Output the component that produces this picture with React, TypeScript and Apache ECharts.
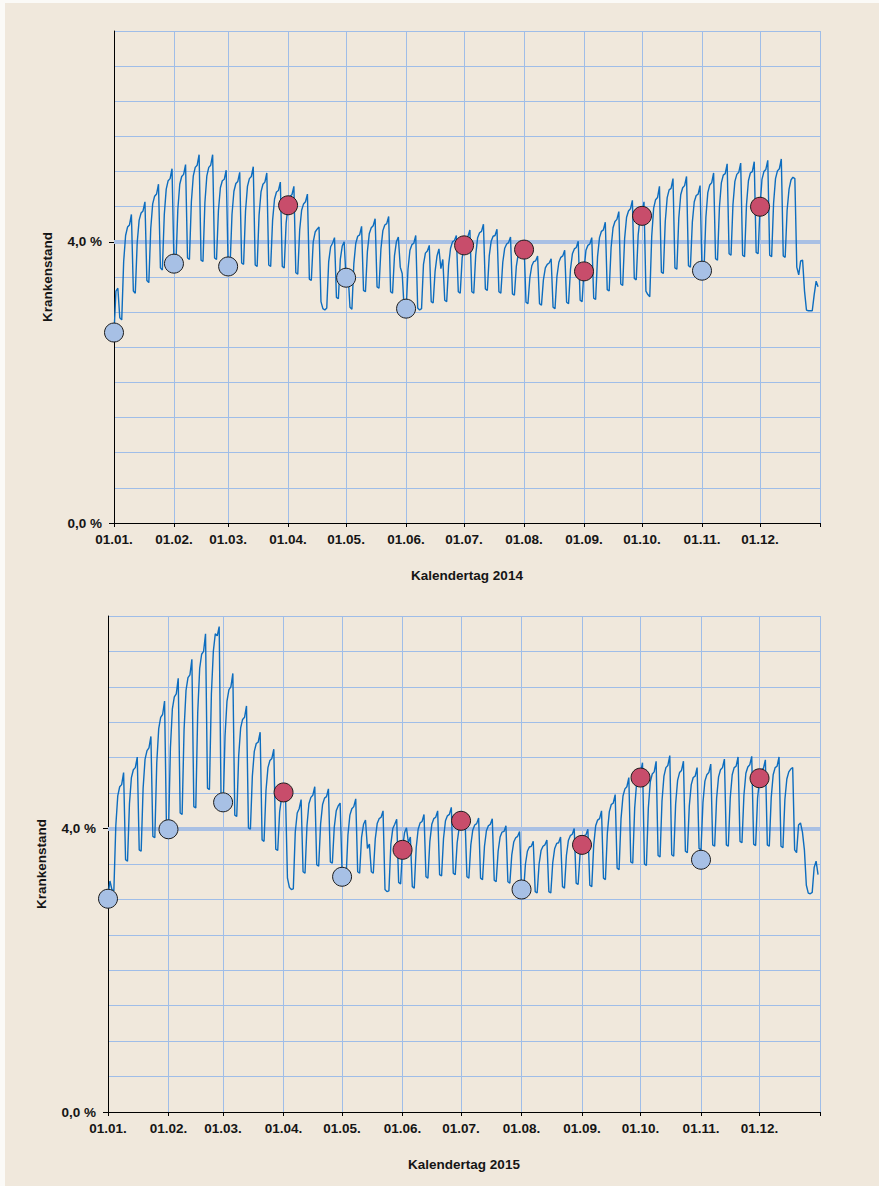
import React, { useEffect, useRef } from "react";
import * as echarts from "echarts";

// ---- axis scaffolding -------------------------------------------------------
const monthStartDays = [0, 31, 59, 90, 120, 151, 181, 212, 243, 273, 304, 334, 365];
const monthLabels = ["01.01.", "01.02.", "01.03.", "01.04.", "01.05.", "01.06.", "01.07.", "01.08.", "01.09.", "01.10.", "01.11.", "01.12."];
const yTickValues = [0, 4];
const yTickLabels = ["0,0 %", "4,0 %"];
const referenceLevel = 4;
const yName = "Krankenstand";
const xNames = ["Kalendertag 2014", "Kalendertag 2015"];

// ---- daily values 2014 (Jan 1 = Wednesday), one row per week --------------
const daily2014 = [
  2.70, 3.30, 3.34, 2.92, 2.89, // Jan 1-5
  3.72, 4.09, 4.21, 4.24, 4.39, 3.30, 3.27, // Jan 6-12
  3.99, 4.31, 4.41, 4.44, 4.57, 3.45, 3.42, // Jan 13-19
  4.19, 4.54, 4.65, 4.68, 4.82, 3.63, 3.60, // Jan 20-26
  4.39, 4.75, 4.87, 4.90, 5.04, 3.70, 3.68, // Jan 27-Feb 2
  4.46, 4.82, 4.93, 4.96, 5.10, 3.77, 3.75, // Feb 3-9
  4.57, 4.94, 5.06, 5.09, 5.24, 3.74, 3.72, // Feb 10-16
  4.56, 4.94, 5.06, 5.09, 5.24, 3.77, 3.75, // Feb 17-23
  4.45, 4.77, 4.87, 4.89, 5.02, 3.67, 3.65, // Feb 24-Mar 2
  4.39, 4.72, 4.83, 4.86, 4.99, 3.70, 3.68, // Mar 3-9
  4.44, 4.79, 4.90, 4.93, 5.07, 3.67, 3.65, // Mar 10-16
  4.38, 4.71, 4.82, 4.85, 4.98, 3.67, 3.65, // Mar 17-23
  4.31, 4.61, 4.71, 4.73, 4.85, 3.65, 3.63, // Mar 24-30
  4.27, 4.51, 4.65, 4.67, 4.79, 3.56, 3.54, // Mar 31-Apr 6
  4.17, 4.45, 4.54, 4.57, 4.68, 3.47, 3.45, // Apr 7-13
  4.00, 4.14, 4.18, 4.21, 3.15, 3.05, 3.03, // Apr 14-20
  3.06, 3.72, 3.93, 3.98, 4.06, 3.21, 3.19, // Apr 21-27
  3.75, 3.94, 4.00, 3.45, 3.55, 3.07, 3.04, // Apr 28-May 4
  3.69, 3.98, 4.08, 4.10, 4.22, 3.31, 3.29, // May 5-11
  3.86, 4.12, 4.20, 4.23, 4.33, 3.36, 3.34, // May 12-18
  3.90, 4.16, 4.24, 4.26, 4.36, 3.29, 3.27, // May 19-25
  3.80, 4.00, 4.07, 3.64, 3.55, 3.05, 3.02, // May 26-Jun 1
  3.61, 3.88, 3.96, 3.98, 4.09, 3.06, 3.03, // Jun 2-8
  3.05, 3.68, 3.84, 3.87, 3.95, 3.15, 3.13, // Jun 9-15
  3.58, 3.80, 3.90, 3.62, 3.75, 3.17, 3.15, // Jun 16-22
  3.67, 3.91, 4.00, 4.02, 4.09, 3.29, 3.27, // Jun 23-29
  3.77, 3.95, 4.06, 4.08, 4.17, 3.29, 3.27, // Jun 30-Jul 6
  3.81, 4.06, 4.13, 4.15, 4.25, 3.33, 3.31, // Jul 7-13
  3.80, 4.01, 4.08, 4.09, 4.18, 3.29, 3.27, // Jul 14-20
  3.71, 3.91, 3.97, 3.99, 4.07, 3.26, 3.24, // Jul 21-27
  3.65, 3.83, 3.89, 3.91, 3.95, 3.14, 3.12, // Jul 28-Aug 3
  3.49, 3.66, 3.72, 3.73, 3.80, 3.12, 3.10, // Aug 4-10
  3.46, 3.63, 3.68, 3.70, 3.76, 3.07, 3.05, // Aug 11-17
  3.51, 3.71, 3.78, 3.80, 3.88, 3.14, 3.12, // Aug 18-24
  3.61, 3.83, 3.90, 3.92, 4.01, 3.17, 3.15, // Aug 25-31
  3.60, 3.88, 3.95, 3.97, 4.06, 3.20, 3.18, // Sep 1-7
  3.79, 4.06, 4.15, 4.17, 4.28, 3.32, 3.30, // Sep 8-14
  3.92, 4.20, 4.29, 4.32, 4.43, 3.40, 3.38, // Sep 15-21
  4.05, 4.35, 4.44, 4.47, 4.59, 3.48, 3.46, // Sep 22-28
  4.10, 4.35, 4.40, 4.57, 3.30, 3.25, 3.22, // Sep 29-Oct 5
  4.08, 4.48, 4.60, 4.63, 4.79, 3.57, 3.55, // Oct 6-12
  4.29, 4.63, 4.74, 4.76, 4.90, 3.63, 3.61, // Oct 13-19
  4.34, 4.67, 4.77, 4.80, 4.93, 3.66, 3.64, // Oct 20-26
  4.28, 4.57, 4.66, 4.68, 4.80, 3.59, 3.57, // Oct 27-Nov 2
  4.35, 4.70, 4.81, 4.84, 4.98, 3.76, 3.74, // Nov 3-9
  4.49, 4.84, 4.95, 4.97, 5.11, 3.83, 3.81, // Nov 10-16
  4.53, 4.86, 4.96, 4.99, 5.12, 3.81, 3.79, // Nov 17-23
  4.53, 4.87, 4.98, 5.00, 5.14, 3.85, 3.83, // Nov 24-30
  4.50, 4.89, 5.00, 5.03, 5.16, 3.81, 3.79, // Dec 1-7
  4.55, 4.90, 5.01, 5.04, 5.18, 3.80, 3.78, // Dec 8-14
  4.45, 4.75, 4.88, 4.92, 4.90, 3.64, 3.53, // Dec 15-21
  3.73, 3.74, 3.30, 3.03, 3.02, 3.02, 3.02, // Dec 22-28
  3.25, 3.44, 3.36, // Dec 29-31
];

// ---- daily values 2015 (Jan 1 = Thursday), one row per week ---------------
const daily2015 = [
  3.05, 3.26, 3.14, 3.12, // Jan 1-4
  4.04, 4.46, 4.59, 4.62, 4.79, 3.56, 3.54, // Jan 5-11
  4.35, 4.72, 4.83, 4.86, 5.01, 3.70, 3.68, // Jan 12-18
  4.57, 4.98, 5.10, 5.14, 5.30, 3.89, 3.87, // Jan 19-25
  4.93, 5.41, 5.57, 5.61, 5.80, 3.96, 3.95, // Jan 26-Feb 1
  5.14, 5.69, 5.86, 5.90, 6.12, 4.22, 4.20, // Feb 2-8
  5.40, 5.95, 6.13, 6.17, 6.39, 4.31, 4.29, // Feb 9-15
  5.64, 6.26, 6.46, 6.50, 6.75, 4.57, 4.55, // Feb 16-22
  5.90, 6.50, 6.75, 6.72, 6.85, 4.30, 4.25, // Feb 23-Mar 1
  5.31, 5.80, 5.96, 6.00, 6.19, 4.19, 4.17, // Mar 2-8
  5.03, 5.42, 5.54, 5.57, 5.73, 4.01, 3.99, // Mar 9-15
  4.74, 5.09, 5.20, 5.22, 5.36, 3.84, 3.82, // Mar 16-22
  4.54, 4.86, 4.96, 4.99, 5.12, 3.71, 3.69, // Mar 23-29
  4.24, 4.44, 4.50, 4.47, 3.30, 3.17, 3.14, // Mar 30-Apr 5
  3.15, 3.95, 4.22, 4.28, 4.41, 3.39, 3.37, // Apr 6-12
  4.04, 4.35, 4.44, 4.47, 4.59, 3.49, 3.47, // Apr 13-19
  4.07, 4.34, 4.43, 4.45, 4.56, 3.53, 3.51, // Apr 20-26
  4.02, 4.25, 4.32, 4.36, 3.38, 3.30, 3.28, // Apr 27-May 3
  3.91, 4.19, 4.28, 4.31, 4.42, 3.39, 3.37, // May 4-10
  3.88, 4.06, 4.12, 3.72, 3.78, 3.39, 3.37, // May 11-17
  3.85, 4.07, 4.14, 4.16, 4.25, 3.14, 3.11, // May 18-24
  3.12, 3.78, 4.00, 4.06, 4.13, 3.24, 3.22, // May 25-31
  3.72, 3.94, 4.01, 3.80, 3.88, 3.18, 3.16, // Jun 1-7
  3.73, 3.99, 4.08, 4.10, 4.20, 3.32, 3.30, // Jun 8-14
  3.82, 4.06, 4.14, 4.16, 4.25, 3.35, 3.33, // Jun 15-21
  3.86, 4.11, 4.18, 4.20, 4.30, 3.37, 3.35, // Jun 22-28
  3.80, 4.01, 4.08, 4.10, 4.17, 3.32, 3.30, // Jun 29-Jul 5
  3.77, 3.98, 4.05, 4.07, 4.15, 3.30, 3.28, // Jul 6-12
  3.75, 3.97, 4.04, 4.06, 4.14, 3.27, 3.25, // Jul 13-19
  3.68, 3.88, 3.95, 3.96, 4.04, 3.25, 3.23, // Jul 20-26
  3.63, 3.81, 3.87, 3.89, 3.96, 3.12, 3.10, // Jul 27-Aug 2
  3.50, 3.68, 3.74, 3.75, 3.82, 3.11, 3.09, // Aug 3-9
  3.50, 3.69, 3.75, 3.77, 3.84, 3.11, 3.09, // Aug 10-16
  3.52, 3.72, 3.79, 3.80, 3.88, 3.18, 3.16, // Aug 17-23
  3.62, 3.83, 3.90, 3.92, 4.00, 3.23, 3.21, // Aug 24-30
  3.64, 3.79, 3.90, 3.91, 3.99, 3.20, 3.18, // Aug 31-Sep 6
  3.77, 4.04, 4.12, 4.14, 4.25, 3.30, 3.28, // Sep 7-13
  3.94, 4.24, 4.34, 4.36, 4.48, 3.44, 3.42, // Sep 14-20
  4.14, 4.46, 4.56, 4.59, 4.72, 3.53, 3.51, // Sep 21-27
  4.29, 4.65, 4.71, 4.79, 4.93, 3.50, 3.48, // Sep 28-Oct 4
  4.29, 4.66, 4.77, 4.80, 4.95, 3.62, 3.60, // Oct 5-11
  4.39, 4.74, 4.86, 4.89, 5.03, 3.63, 3.61, // Oct 12-18
  4.35, 4.68, 4.79, 4.82, 4.95, 3.68, 3.66, // Oct 19-25
  4.32, 4.62, 4.72, 4.74, 4.86, 3.72, 3.70, // Oct 26-Nov 1
  4.37, 4.67, 4.76, 4.79, 4.91, 3.77, 3.75, // Nov 2-8
  4.43, 4.73, 4.83, 4.86, 4.98, 3.77, 3.75, // Nov 9-15
  4.44, 4.76, 4.86, 4.88, 5.01, 3.82, 3.80, // Nov 16-22
  4.47, 4.78, 4.87, 4.90, 5.02, 3.78, 3.76, // Nov 23-29
  4.43, 4.69, 4.83, 4.85, 4.97, 3.77, 3.75, // Nov 30-Dec 6
  4.44, 4.76, 4.86, 4.88, 5.01, 3.75, 3.73, // Dec 7-13
  4.41, 4.70, 4.80, 4.84, 4.86, 3.70, 3.66, // Dec 14-20
  4.05, 4.08, 3.95, 3.70, 3.20, 3.09, 3.08, // Dec 21-27
  3.10, 3.45, 3.54, 3.35, // Dec 28-31
];

// ---- values on the 1st of each month (dots) ---------------------------------
const monthDots2014 = [2.71, 3.69, 3.65, 4.52, 3.49, 3.05, 3.95, 3.89, 3.58, 4.37, 3.59, 4.50];
const monthDotKind2014 = ["b", "b", "b", "r", "b", "b", "r", "r", "r", "r", "b", "r"];
const monthDots2015 = [3.01, 3.99, 4.37, 4.51, 3.32, 3.70, 4.11, 3.14, 3.77, 4.72, 3.56, 4.71];
const monthDotKind2015 = ["b", "b", "b", "r", "b", "r", "r", "b", "r", "r", "b", "r"];

// ---- styles -------------------------------------------------------------------
const BG = "#f0e8dc";
const GRID_COLOR = "#9fbde8";
const REF_COLOR = "#a9c0e4";
const LINE_COLOR = "#0d6dbf";
const DOT_BLUE = "#a7c0e5";
const DOT_RED = "#c84d6b";
const TEXT_COLOR = "#151515";
const FONT = "'Liberation Sans', Arial, Helvetica, sans-serif";

const grids = [
  { left: 114, top: 31, width: 706, height: 492 },
  { left: 108, top: 616, width: 712, height: 496 },
];

const categories = Array.from({ length: 366 }, (_, i) => String(i));

const isMonthStart = (i: number) => monthStartDays.indexOf(i) >= 0;

function buildOption() {
  const textStyle = { color: TEXT_COLOR, fontFamily: FONT, fontWeight: "bold" as const, fontSize: 13.5 };
  const years = [
    { values: daily2014, dots: monthDots2014, kinds: monthDotKind2014 },
    { values: daily2015, dots: monthDots2015, kinds: monthDotKind2015 },
  ];
  const xAxis: any[] = [];
  const yAxis: any[] = [];
  const series: any[] = [];
  years.forEach((yr, g) => {
    xAxis.push({
      gridIndex: g,
      type: "category",
      data: categories,
      boundaryGap: false,
      axisLine: { show: true, lineStyle: { color: "#000", width: 1 } },
      axisTick: {
        show: true,
        interval: (i: number) => isMonthStart(i),
        length: 4,
        lineStyle: { color: "#000", width: 1 },
      },
      axisLabel: {
        show: true,
        interval: (i: number) => isMonthStart(i) && i < 365,
        formatter: (v: string) => {
          const k = monthStartDays.indexOf(Number(v));
          return k >= 0 && k < monthLabels.length ? monthLabels[k] : "";
        },
        margin: 9,
        ...textStyle,
      },
      splitLine: {
        show: true,
        interval: (i: number) => isMonthStart(i) && i > 0,
        lineStyle: { color: GRID_COLOR, width: 1 },
      },
      name: xNames[g],
      nameLocation: "middle",
      nameGap: 45,
      nameTextStyle: textStyle,
    });
  });
  // y axes: first two carry horizontal grid lines only, next two carry line/ticks/labels
  years.forEach((_yr, g) => {
    yAxis.push({
      gridIndex: g,
      type: "value",
      position: "left",
      min: 0,
      max: 7,
      interval: 0.5,
      axisLine: { show: false },
      axisTick: { show: false },
      axisLabel: { show: false },
      splitLine: { show: true, lineStyle: { color: GRID_COLOR, width: 1 } },
    });
  });
  years.forEach((_yr, g) => {
    yAxis.push({
      gridIndex: g,
      type: "value",
      position: "left",
      offset: 0,
      min: 0,
      max: 7,
      interval: 0.5,
      axisLine: { show: true, onZero: false, lineStyle: { color: "#000", width: 1 } },
      axisTick: { show: true, customValues: yTickValues, length: 5, lineStyle: { color: "#000" } },
      axisLabel: {
        customValues: yTickValues,
        formatter: (v: number) => {
          const k = yTickValues.indexOf(v);
          return k >= 0 ? yTickLabels[k] : "";
        },
        margin: 12,
        ...textStyle,
      },
      splitLine: { show: false },
      name: yName,
      nameLocation: "middle",
      nameGap: 60,
      nameTextStyle: textStyle,
    });
  });
  years.forEach((yr, g) => {
    series.push({
      type: "line",
      xAxisIndex: g,
      yAxisIndex: g,
      data: [...yr.values, null],
      showSymbol: false,
      symbol: "none",
      lineStyle: { color: LINE_COLOR, width: 1.4 },
      z: 3,
      silent: true,
      markLine: {
        silent: true,
        symbol: "none",
        z: 1,
        label: { show: false },
        lineStyle: { color: REF_COLOR, width: 4, type: "solid" },
        data: [{ yAxis: referenceLevel }],
      },
    });
    series.push({
      type: "scatter",
      xAxisIndex: g,
      yAxisIndex: g,
      symbol: "circle",
      symbolSize: 19,
      z: 4,
      itemStyle: { borderColor: "#1c1c1c", borderWidth: 1, opacity: 1 },
      data: yr.dots.map((v, i) => ({
        value: [monthStartDays[i], v],
        itemStyle: {
          color: yr.kinds[i] === "r" ? DOT_RED : DOT_BLUE,
          borderColor: "#1c1c1c",
          borderWidth: 1,
          opacity: 1,
        },
      })),
    });
  });
  return {
    animation: false,
    backgroundColor: "transparent",
    grid: grids.map((gr) => ({ ...gr, containLabel: false })),
    xAxis,
    yAxis,
    series,
  };
}

export default function App() {
  const ref = useRef<HTMLDivElement>(null);
  useEffect(() => {
    if (!ref.current) return;
    const chart = echarts.init(ref.current, null, { renderer: "svg" });
    chart.setOption(buildOption() as any);
    return () => chart.dispose();
  }, []);
  return (
    <div style={{ position: "absolute", left: 0, top: 0, width: 879, height: 1186, background: "#fbfaf7", overflow: "hidden" }}>
      <div style={{ position: "absolute", left: 5, top: 3, right: 0, bottom: 0, background: BG }} />
      <div ref={ref} style={{ position: "absolute", left: 0, top: 0, width: 879, height: 1186 }} />
    </div>
  );
}
